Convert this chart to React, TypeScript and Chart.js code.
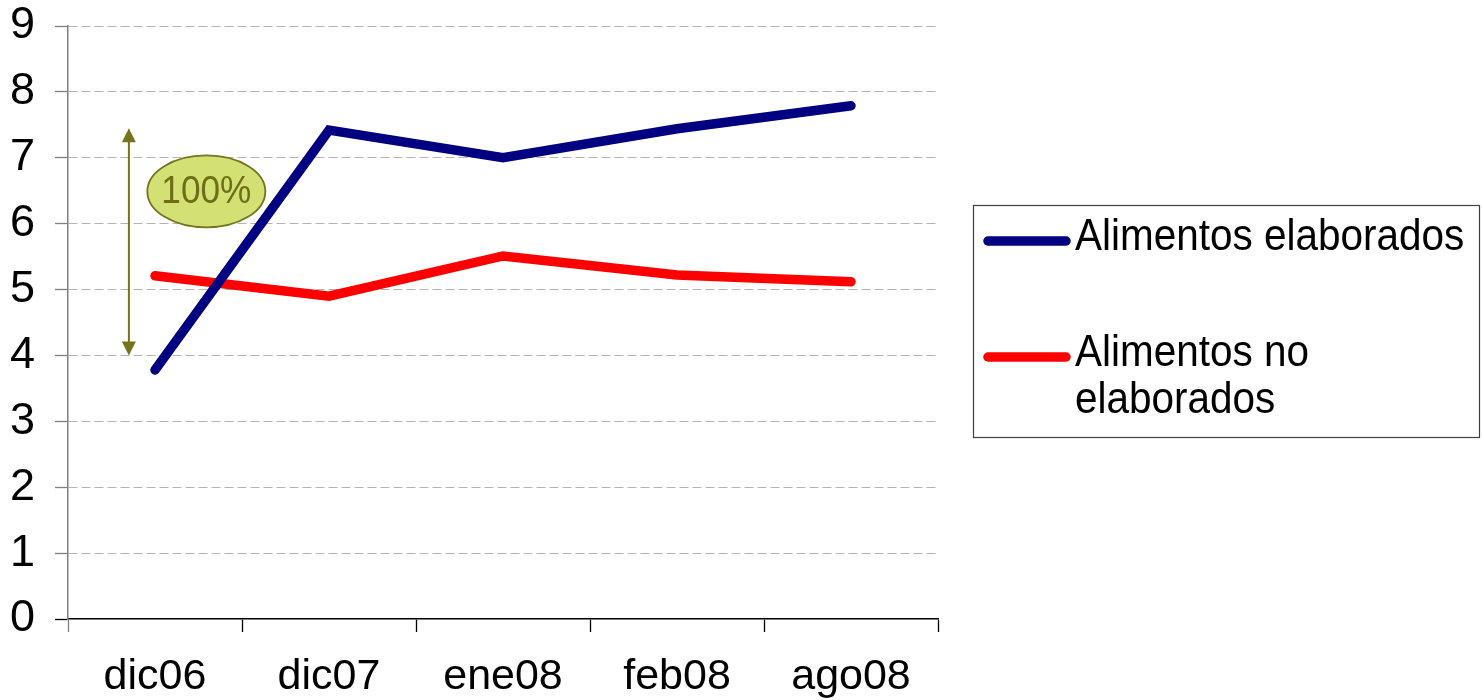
import React, { useEffect, useRef } from "react";
import { Chart, registerables } from "chart.js";

Chart.register(...registerables);

// Periods on the horizontal axis
const periods = ["dic06", "dic07", "ene08", "feb08", "ago08"];

// Series values
const elaborados = [3.78, 7.42, 7.0, 7.44, 7.79];
const noElaborados = [5.21, 4.9, 5.51, 5.22, 5.12];

// Series names
const serieElaborados = "Alimentos elaborados";
const serieNoElaborados = "Alimentos no elaborados";

// Value axis range
const yMin = 0;
const yMax = 9;
const yStep = 1;

// Note marking the jump of the processed-food series
const noteArrow = { x: -0.15, from: 4.0, to: 7.45 };
const noteBadge = { x: 0.295, y: 6.49, text: "100%" };

const FONT = '"Liberation Sans", Arial, Helvetica, sans-serif';
const OLIVE = "#74741c";
const LINE_W = 9.5;

const notePlugin = {
  id: "noteArrow",
  afterDatasetsDraw(chart: any) {
    const { ctx, scales } = chart;
    const xs = scales.x;
    const ys = scales.y;
    const ax = xs.getPixelForValue(noteArrow.x);
    const yTop = ys.getPixelForValue(noteArrow.to);
    const yBot = ys.getPixelForValue(noteArrow.from);
    const head = 14;
    const half = 7;
    ctx.save();
    ctx.strokeStyle = OLIVE;
    ctx.fillStyle = OLIVE;
    ctx.lineWidth = 2;
    ctx.beginPath();
    ctx.moveTo(ax, yTop + head - 1);
    ctx.lineTo(ax, yBot - head + 1);
    ctx.stroke();
    ctx.beginPath();
    ctx.moveTo(ax, yTop);
    ctx.lineTo(ax - half, yTop + head);
    ctx.lineTo(ax + half, yTop + head);
    ctx.closePath();
    ctx.fill();
    ctx.beginPath();
    ctx.moveTo(ax, yBot);
    ctx.lineTo(ax - half, yBot - head);
    ctx.lineTo(ax + half, yBot - head);
    ctx.closePath();
    ctx.fill();

    const bx = xs.getPixelForValue(noteBadge.x);
    const by = ys.getPixelForValue(noteBadge.y);
    ctx.beginPath();
    ctx.ellipse(bx, by, 59, 36, 0, 0, Math.PI * 2);
    ctx.fillStyle = "#d3e073";
    ctx.fill();
    ctx.lineWidth = 1.8;
    ctx.strokeStyle = OLIVE;
    ctx.stroke();
    ctx.fillStyle = "#6e6e18";
    ctx.font = `39px ${FONT}`;
    ctx.textAlign = "center";
    ctx.textBaseline = "middle";
    ctx.fillText(noteBadge.text, bx, by + 1, 90);
    ctx.restore();
  },
};

const boxLegendPlugin = {
  id: "boxLegend",
  afterDraw(chart: any) {
    const { ctx } = chart;
    const left = 973;
    const top = 205;
    const width = 507;
    const height = 233;
    ctx.save();
    ctx.strokeStyle = "#404040";
    ctx.lineWidth = 1.2;
    ctx.strokeRect(left + 0.5, top + 0.5, width - 1, height - 1);

    ctx.font = `44px ${FONT}`;
    ctx.textAlign = "left";
    ctx.textBaseline = "middle";
    const textX = 1075;
    const maxText = 395;
    const squeeze = 0.92;
    const rows = [241, 357];
    const lineGap = 47;
    chart.data.datasets.forEach((ds: any, i: number) => {
      const y = rows[i];
      ctx.beginPath();
      ctx.lineCap = "round";
      ctx.lineWidth = LINE_W;
      ctx.strokeStyle = ds.borderColor;
      ctx.moveTo(988, y);
      ctx.lineTo(1066, y);
      ctx.stroke();

      // wrap label words into lines that fit the box
      const words = String(ds.label).split(" ");
      const lines: string[] = [];
      let cur = "";
      for (const w of words) {
        const trial = cur ? cur + " " + w : w;
        if (cur && ctx.measureText(trial).width * squeeze > maxText) {
          lines.push(cur);
          cur = w;
        } else {
          cur = trial;
        }
      }
      if (cur) lines.push(cur);
      ctx.fillStyle = "#000";
      lines.forEach((ln, k) => {
        const w = ctx.measureText(ln).width * squeeze;
        ctx.fillText(ln, textX, y - 3 + k * lineGap, w);
      });
    });
    ctx.restore();
  },
};

export default function App() {
  const canvasRef = useRef<HTMLCanvasElement | null>(null);

  useEffect(() => {
    if (!canvasRef.current) return;
    const chart = new Chart(canvasRef.current, {
      type: "line",
      data: {
        labels: periods,
        datasets: [
          {
            label: serieElaborados,
            data: elaborados,
            borderColor: "#000080",
            backgroundColor: "#000080",
            borderWidth: LINE_W,
            pointRadius: 0,
            tension: 0,
            borderCapStyle: "round",
            borderJoinStyle: "miter",
          },
          {
            label: serieNoElaborados,
            data: noElaborados,
            borderColor: "#ff0000",
            backgroundColor: "#ff0000",
            borderWidth: LINE_W,
            pointRadius: 0,
            tension: 0,
            borderCapStyle: "round",
            borderJoinStyle: "miter",
          },
        ],
      },
      options: {
        animation: false,
        responsive: true,
        maintainAspectRatio: false,
        layout: { padding: { left: 0, top: 26, right: 544, bottom: 0 } },
        plugins: {
          legend: { display: false },
          tooltip: { enabled: false },
        },
        scales: {
          x: {
            type: "category",
            offset: true,
            grid: {
              offset: true,
              drawOnChartArea: false,
              drawTicks: true,
              tickLength: 13,
              tickWidth: 1.3,
              tickColor: (c: any) => (c.index === 0 ? "#808080" : "#000000"),
            },
            border: { color: "#000000", width: 1.5 },
            ticks: {
              color: "#000",
              font: { family: FONT, size: 43 },
              padding: 19,
              maxRotation: 0,
            },
            afterFit: (s: any) => {
              s.height = 81;
              s.paddingLeft = 0;
              s.paddingRight = 0;
            },
          },
          y: {
            min: yMin,
            max: yMax,
            grid: {
              color: (c: any) =>
                c.tick && c.tick.value === 0 ? "rgba(0,0,0,0)" : "#b4b4b4",
              lineWidth: 1,
              drawTicks: true,
              tickLength: 13,
              tickWidth: 1.3,
              tickBorderDash: [],
              tickColor: (c: any) =>
                c.tick && c.tick.value === 0 ? "#000000" : "#808080",
            },
            border: { color: "#808080", width: 1.5, dash: [9, 4] },
            ticks: {
              stepSize: yStep,
              color: "#000",
              font: { family: FONT, size: 45 },
              padding: 20,
            },
            afterFit: (s: any) => {
              s.width = 68;
              s.paddingTop = 0;
              s.paddingBottom = 0;
            },
          },
        },
      },
      plugins: [notePlugin, boxLegendPlugin],
    });
    return () => chart.destroy();
  }, []);

  return (
    <div
      style={{
        position: "absolute",
        left: 0,
        top: 0,
        width: 1482,
        height: 700,
        background: "#fff",
      }}
    >
      <canvas ref={canvasRef} />
    </div>
  );
}
